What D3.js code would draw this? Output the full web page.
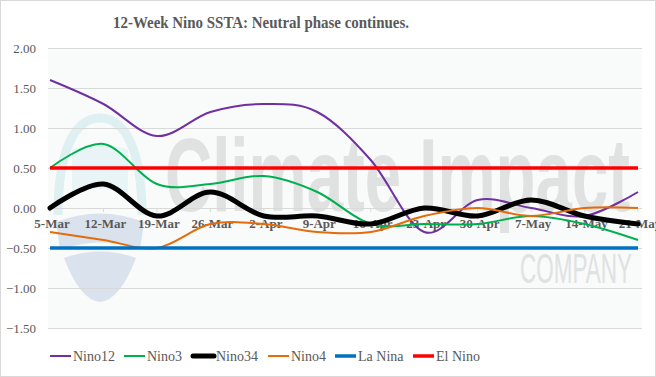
<!DOCTYPE html>
<html>
<head>
<meta charset="utf-8">
<script src="https://cdn.jsdelivr.net/npm/d3@7"></script>
<style>
  body { margin: 0; background: #fff; }
  text { font-family: "Liberation Serif", serif; }
</style>
</head>
<body>
<div id="container"></div>
<script>
/**
 * DATA
 * */
const weeks = ["5-Mar", "12-Mar", "19-Mar", "26-Mar", "2-Apr", "9-Apr", "16-Apr", "23-Apr", "30-Apr", "7-May", "14-May", "21-May"];
const nino12 = [1.6, 1.3, 0.9, 1.2, 1.3, 1.2, 0.6, -0.3, 0.1, 0.0, -0.1, 0.2];
const nino3 = [0.5, 0.8, 0.3, 0.3, 0.4, 0.2, -0.2, -0.2, -0.2, -0.1, -0.2, -0.4];
const nino34 = [0.0, 0.3, -0.1, 0.2, -0.1, -0.1, -0.2, 0.0, -0.1, 0.1, -0.1, -0.2];
const nino4 = [-0.3, -0.4, -0.5, -0.2, -0.2, -0.3, -0.3, -0.1, 0.0, -0.1, 0.0, 0.0];
const laNina = weeks.map(() => -0.5);
const elNino = weeks.map(() => 0.5);
const yTicks = [-1.5, -1.0, -0.5, 0, 0.5, 1.0, 1.5, 2.0];

const SERIF = "'Liberation Serif', 'Times New Roman', serif";
const width = 656, height = 377;
const plot = { left: 48, right: 642, top: 48, bottom: 328 };

const series = [
  { name: "Nino12", values: nino12, color: "#7030a0", w: 2 },
  { name: "Nino3", values: nino3, color: "#00b050", w: 2 },
  { name: "Nino34", values: nino34, color: "#000000", w: 5 },
  { name: "Nino4", values: nino4, color: "#e46c0a", w: 2 },
  { name: "La Nina", values: laNina, color: "#0070c0", w: 3.5 },
  { name: "El Nino", values: elNino, color: "#ff0000", w: 3.5 }
];

const svg = d3.select("#container")
  .append("svg")
  .attr("width", width)
  .attr("height", height);

// outer frame
svg.append("rect")
  .attr("x", 0.5).attr("y", 0.5)
  .attr("width", width - 1).attr("height", height - 1)
  .attr("fill", "#fff")
  .attr("stroke", "#d9d9d9");

const x = d3.scalePoint()
  .domain(weeks)
  .range([50, 638]);

const y = d3.scaleLinear()
  .domain([-1.5, 2.0])
  .range([plot.bottom, plot.top]);

// plot area
svg.append("rect")
  .attr("x", plot.left).attr("y", plot.top)
  .attr("width", plot.right - plot.left).attr("height", plot.bottom - plot.top)
  .attr("fill", "#f9fafa");

// watermark (logo + company name)
const wm = svg.append("g").attr("class", "watermark");
wm.append("path")
  .attr("d", "M58,215 C58,150 75,118 100,118 C125,118 142,150 142,215")
  .attr("fill", "none").attr("stroke", "#dff0f2").attr("stroke-width", 9);
wm.append("path")
  .attr("d", "M56,222 Q100,205 144,222 L140,250 Q100,235 60,250 Z")
  .attr("fill", "#dae3ed");
wm.append("path")
  .attr("d", "M64,258 Q100,245 136,258 Q120,300 100,302 Q80,300 64,258 Z")
  .attr("fill", "#dae3ed");
wm.append("path")
  .attr("d", "M72,150 Q100,138 128,150 L128,195 Q100,182 72,195 Z")
  .attr("fill", "#e8f4f5");
wm.append("text")
  .attr("x", 165).attr("y", 211)
  .attr("textLength", 465).attr("lengthAdjust", "spacingAndGlyphs")
  .style("font-family", "'Liberation Sans Narrow', 'Liberation Sans', Arial, sans-serif")
  .style("font-weight", "bold")
  .style("font-size", "104px")
  .attr("fill", "#e0e1e1")
  .text("Climate Impact");
wm.append("text")
  .attr("x", 520).attr("y", 283)
  .attr("textLength", 112).attr("lengthAdjust", "spacingAndGlyphs")
  .style("font-family", "'Liberation Sans Narrow', 'Liberation Sans', Arial, sans-serif")
  .style("font-size", "42px")
  .attr("fill", "#e0e1e1")
  .text("COMPANY");

// gridlines
svg.selectAll(".grid")
  .data(yTicks)
  .join("line")
  .attr("class", "grid")
  .attr("x1", plot.left).attr("x2", plot.right)
  .attr("y1", d => y(d) + 0.5).attr("y2", d => y(d) + 0.5)
  .attr("stroke", "#d9d9d9");

// y labels
svg.selectAll(".ylab")
  .data(yTicks)
  .join("text")
  .attr("class", "ylab")
  .attr("x", 36)
  .attr("y", d => y(d) + 4.5)
  .attr("text-anchor", "end")
  .style("font-family", SERIF)
  .style("font-size", "13px")
  .attr("fill", "#595959")
  .text(d => d3.format(".2f")(d));

// small ticks on zero axis
svg.selectAll(".xtick")
  .data(weeks)
  .join("line")
  .attr("class", "xtick")
  .attr("x1", d => x(d)).attr("x2", d => x(d))
  .attr("y1", y(0)).attr("y2", y(0) + 4)
  .attr("stroke", "#d9d9d9");

// x labels
svg.selectAll(".xlab")
  .data(weeks)
  .join("text")
  .attr("class", "xlab")
  .attr("x", d => x(d) + 2)
  .attr("y", y(0) + 20)
  .attr("text-anchor", "middle")
  .style("font-family", SERIF)
  .style("font-size", "13px")
  .style("font-weight", "bold")
  .attr("fill", "#595959")
  .text(d => d);

// lines
const line = d3.line()
  .x((d, i) => x(weeks[i]))
  .y(d => y(d))
  .curve(d3.curveCardinal.tension(0));

svg.selectAll(".series")
  .data(series)
  .join("path")
  .attr("class", "series")
  .attr("d", d => line(d.values))
  .attr("fill", "none")
  .attr("stroke", d => d.color)
  .attr("stroke-width", d => d.w)
  .attr("stroke-linecap", d => d.w > 4 ? "round" : "butt");

// title
svg.append("text")
  .attr("x", 113).attr("y", 28)
  .attr("textLength", 296).attr("lengthAdjust", "spacingAndGlyphs")
  .style("font-family", SERIF)
  .style("font-size", "17.5px")
  .style("font-weight", "bold")
  .attr("fill", "#595959")
  .text("12-Week Nino SSTA: Neutral phase continues.");

// legend
const legendX = [50, 124, 193, 268, 335, 413];
const legend = svg.selectAll(".legend")
  .data(series)
  .join("g")
  .attr("class", "legend")
  .attr("transform", (d, i) => `translate(${legendX[i]},356)`);

legend.append("line")
  .attr("x1", 0).attr("x2", 21)
  .attr("stroke", d => d.color)
  .attr("stroke-width", d => d.w)
  .attr("stroke-linecap", d => d.w > 4 ? "round" : "butt");

legend.append("text")
  .attr("x", 23)
  .attr("y", 5)
  .style("font-family", SERIF)
  .style("font-size", "14px")
  .attr("fill", "#595959")
  .text(d => d.name);
</script>
</body>
</html>
